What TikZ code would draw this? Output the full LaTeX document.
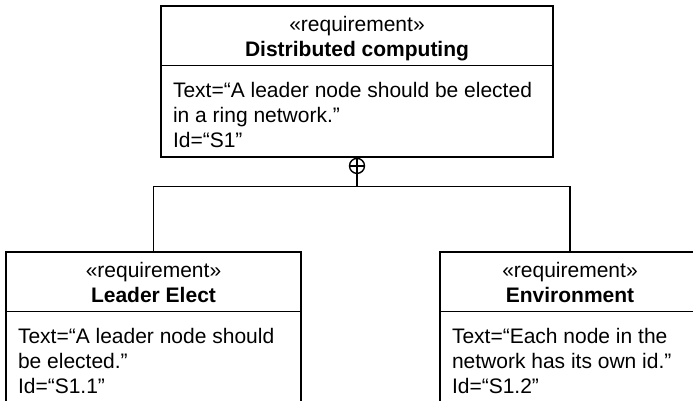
\documentclass[tikz,border=0pt]{standalone}
\usepackage{fontspec}
\setmainfont{Liberation Sans}
\tikzset{
  reqbox/.style={draw, line width=1.4pt, inner sep=0pt},
  hdr/.style={inner sep=0pt, anchor=base, font=\fontsize{21}{25}\selectfont},
  bodytxt/.style={inner sep=0pt, anchor=north west, align=left, font=\fontsize{21}{25}\selectfont}
}
\begin{document}
\begin{tikzpicture}[x=1pt, y=-1pt, line width=1.4pt]
  % 図の範囲
  \useasboundingbox (0,0) rectangle (693,401);
  \clip (0,0) rectangle (693,401);

  % 要求の箱（下の二つは図の端で切れる）
  \node[reqbox, minimum width=392pt, minimum height=151pt] (dc) at (357,81.5) {};
  \node[reqbox, minimum width=295pt, minimum height=200pt] (le) at (153.5,352) {};
  \node[reqbox, minimum width=260pt, minimum height=200pt] (en) at (570,352) {};

  % 見出しと本文の区切り線
  \foreach \b in {dc,le,en} {
    \draw ([yshift=-60pt]\b.north west) -- ([yshift=-60pt]\b.north east);
    \node[hdr] at ([yshift=-26pt]\b.north) {«requirement»};
  }

  % 名前
  \node[hdr] at ([yshift=-51pt]dc.north) {\textbf{Distributed computing}};
  \node[hdr] at ([yshift=-51pt]le.north) {\textbf{Leader Elect}};
  \node[hdr] at ([yshift=-51pt]en.north) {\textbf{Environment}};

  % 本文
  \node[bodytxt] (dc-t) at ([xshift=12pt, yshift=-76pt]dc.north west)
    {Text=“A leader node should be elected\\in a ring network.”\\Id=“S1”};
  \node[bodytxt] (le-t) at ([xshift=12pt, yshift=-76pt]le.north west)
    {Text=“A leader node should\\be elected.”\\Id=“S1.1”};
  \node[bodytxt] (en-t) at ([xshift=12pt, yshift=-76pt]en.north west)
    {Text=“Each node in the\\network has its own id.”\\Id=“S1.2”};

  % 包含の記号（丸にプラス）
  \node[circle, draw, minimum size=15pt, inner sep=0pt, anchor=north] (dc-c) at (dc.south) {};
  \draw (dc-c.north) -- (dc-c.south) (dc-c.west) -- (dc-c.east);

  % 枝分かれの線
  \coordinate (jn) at ([yshift=-12.5pt]dc-c.south);
  \draw (dc-c.south) -- (jn);
  \draw (jn) -| (le.north);
  \draw (jn) -| (en.north);

\end{tikzpicture}
\end{document}
